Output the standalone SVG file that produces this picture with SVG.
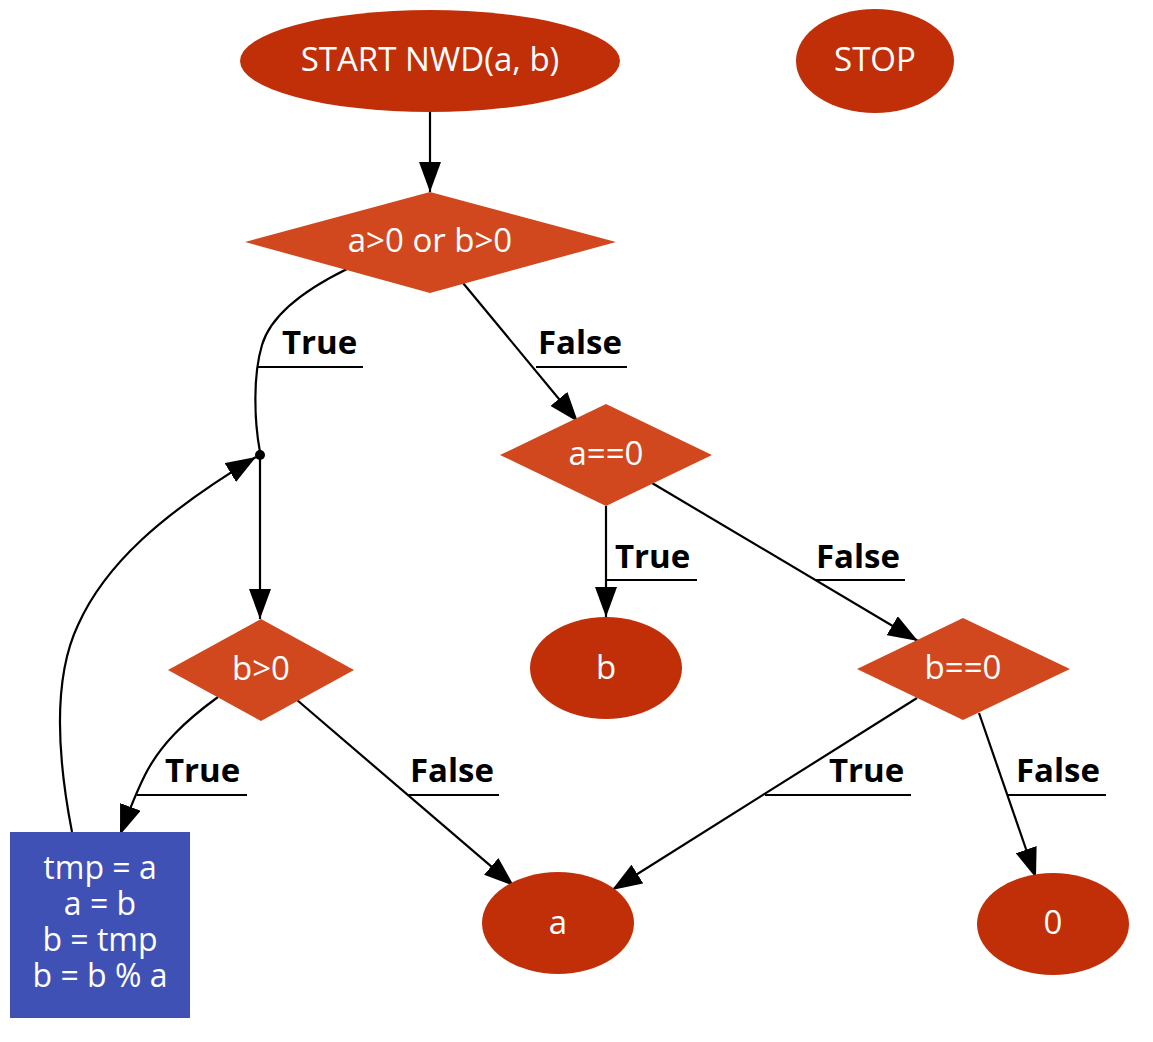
<svg xmlns="http://www.w3.org/2000/svg" width="1153" height="1042" viewBox="0 0 1153 1042">
<style>
.term{fill:#c12f09}
.dec{fill:#d1481e}
.proc{fill:#3f51b5}
.nt{font-family:"Open Sans","DejaVu Sans",sans-serif;font-size:33px;fill:#ffffff;text-anchor:middle}
.bt{font-size:32px}
.lbl{font-family:"Open Sans","DejaVu Sans",sans-serif;font-size:33px;font-weight:bold;fill:#000000}
.edge{fill:none;stroke:#000000;stroke-width:2.2}
.ul{stroke:#000000;stroke-width:2.2}
</style>
<defs>
<marker id="arr" viewBox="0 0 30 22" refX="30" refY="11" markerWidth="30" markerHeight="22" markerUnits="userSpaceOnUse" orient="auto">
<path d="M0,0 L30,11 L0,22 Z" fill="#000000"/>
</marker>
</defs>
<rect width="1153" height="1042" fill="#ffffff"/>
<g id="connectors">
<path class="edge" d="M430,112 L430,192" marker-end="url(#arr)"/>
<path class="edge" d="M347,269 C300,292 270,318 262,345 C253,375 254,420 260,452"/>
<path class="edge" d="M260,455 L260,619" marker-end="url(#arr)"/>
<path class="edge" d="M72,832 C58,760 52,680 78,625 C105,565 160,515 256,457" marker-end="url(#arr)"/>
<path class="edge" d="M218,697 C185,721 160,745 145,775 C138,789 130,808 120,835" marker-end="url(#arr)"/>
<path class="edge" d="M297,700 L514,886" marker-end="url(#arr)"/>
<path class="edge" d="M463,283 L578,422" marker-end="url(#arr)"/>
<path class="edge" d="M606,506 L606,617" marker-end="url(#arr)"/>
<path class="edge" d="M652,483 L918,641" marker-end="url(#arr)"/>
<path class="edge" d="M917,698 L612,890" marker-end="url(#arr)"/>
<path class="edge" d="M979,713 L1036,878" marker-end="url(#arr)"/>
<circle cx="260" cy="455" r="5" fill="#000000"/>
<text class="lbl" x="282" y="354">True</text>
<line class="ul" x1="258" y1="367" x2="363" y2="367"/>
<text class="lbl" x="538" y="354">False</text>
<line class="ul" x1="536" y1="367" x2="627" y2="367"/>
<text class="lbl" x="615" y="568">True</text>
<line class="ul" x1="606" y1="580" x2="697" y2="580"/>
<text class="lbl" x="816" y="568">False</text>
<line class="ul" x1="816" y1="580" x2="905" y2="580"/>
<text class="lbl" x="165" y="782">True</text>
<line class="ul" x1="137" y1="795" x2="247" y2="795"/>
<text class="lbl" x="410" y="782">False</text>
<line class="ul" x1="408" y1="795" x2="499" y2="795"/>
<text class="lbl" x="829" y="782">True</text>
<line class="ul" x1="765" y1="795" x2="911" y2="795"/>
<text class="lbl" x="1016" y="782">False</text>
<line class="ul" x1="1008" y1="795" x2="1106" y2="795"/>
</g>
<g id="start">
<ellipse class="term" cx="430" cy="61" rx="190" ry="51"/>
<text class="nt" x="430" y="71">START NWD(a, b)</text>
</g>
<g id="stop">
<ellipse class="term" cx="875" cy="61" rx="79" ry="52"/>
<text class="nt" x="875" y="71">STOP</text>
</g>
<g id="cond1">
<polygon class="dec" points="430,192 616,242 430,293 245,242"/>
<text class="nt" x="430" y="252">a&gt;0 or b&gt;0</text>
</g>
<g id="cond_a0">
<polygon class="dec" points="606,404 712,455 606,506 500,455"/>
<text class="nt" x="606" y="465">a==0</text>
</g>
<g id="ret_b">
<ellipse class="term" cx="606" cy="668" rx="76" ry="51"/>
<text class="nt" x="606" y="679">b</text>
</g>
<g id="cond_b0">
<polygon class="dec" points="963,618 1070,669 963,720 857,669"/>
<text class="nt" x="963" y="679">b==0</text>
</g>
<g id="cond_bgt0">
<polygon class="dec" points="261,619 354,670 261,721 168,670"/>
<text class="nt" x="261" y="680">b&gt;0</text>
</g>
<g id="ret_a">
<ellipse class="term" cx="558" cy="923" rx="76" ry="51"/>
<text class="nt" x="558" y="934">a</text>
</g>
<g id="ret_0">
<ellipse class="term" cx="1053" cy="924" rx="76" ry="51"/>
<text class="nt" x="1053" y="934">0</text>
</g>
<g id="swap">
<rect class="proc" x="10" y="832" width="180" height="186"/>
<text class="nt bt" x="100" y="879">tmp = a</text>
<text class="nt bt" x="100" y="915">a = b</text>
<text class="nt bt" x="100" y="951">b = tmp</text>
<text class="nt bt" x="100" y="987">b = b % a</text>
</g>
</svg>
